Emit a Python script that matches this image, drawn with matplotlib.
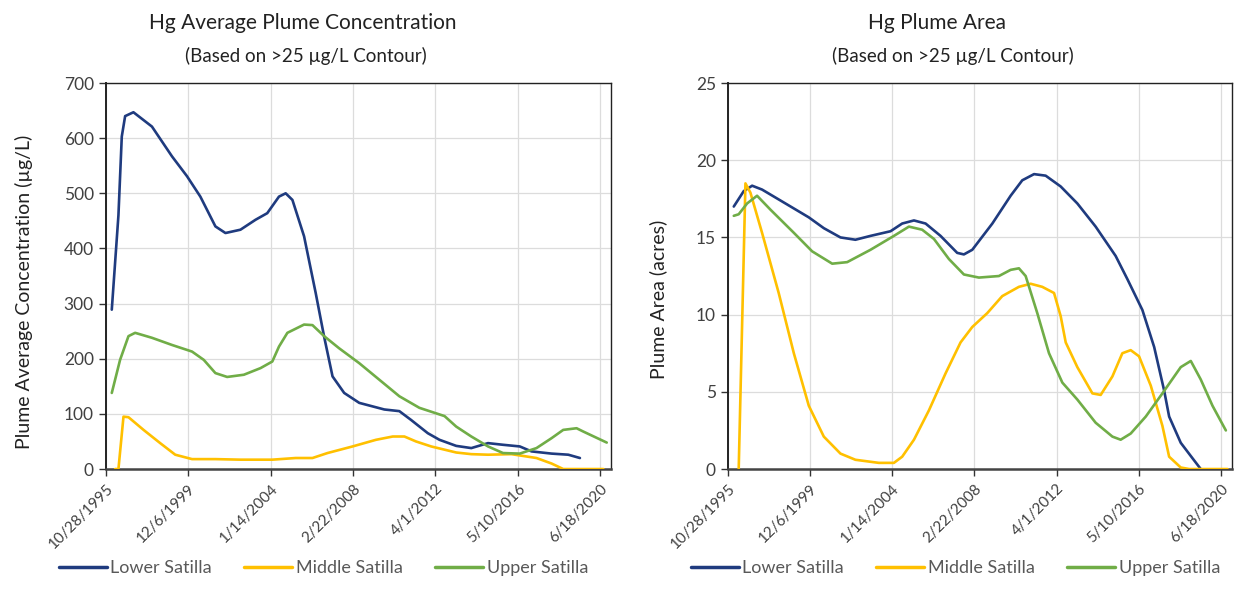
import matplotlib
matplotlib.use('Agg')
import matplotlib.pyplot as plt
import pandas as pd

plt.rcParams['font.family'] = ['Lato', 'DejaVu Sans']

# Hg average plume concentration (ug/L)
conc_lower_dates = ['1996-02-15', '1996-06-15', '1996-08-15', '1996-10-15', '1997-03-15',
                    '1998-02-15', '1999-02-15', '1999-11-15', '2000-07-15', '2001-04-15',
                    '2001-10-15', '2002-07-15', '2003-04-15', '2003-11-15', '2004-06-15',
                    '2004-10-15', '2005-02-15', '2005-09-15', '2006-04-15', '2006-09-15',
                    '2007-02-15', '2007-09-15', '2008-06-15', '2009-09-15', '2010-06-15',
                    '2011-01-15', '2011-11-15', '2012-06-15', '2013-04-15', '2014-01-15',
                    '2014-11-15', '2015-08-15', '2016-06-15', '2017-01-15', '2018-01-15',
                    '2018-11-15', '2019-06-15']
conc_lower = [289, 460, 603, 640, 647, 621, 567, 531, 494, 440, 428, 434, 452, 464, 494,
              500, 488, 422, 319, 240, 168, 138, 120, 108, 105, 89, 65, 53, 42, 38,
              47, 44, 41, 32, 28, 26, 20]

conc_middle_dates = ['1996-04-15', '1996-06-15', '1996-09-15', '1996-12-15', '1997-09-15',
                     '1998-07-15', '1999-04-15', '2000-02-15', '2001-04-15', '2002-07-15',
                     '2004-02-15', '2005-04-15', '2006-02-15', '2006-11-15', '2008-02-15',
                     '2009-04-15', '2010-02-15', '2010-09-15', '2011-04-15', '2012-01-15',
                     '2013-04-15', '2014-01-15', '2014-11-15', '2016-01-15', '2017-04-15',
                     '2018-01-15', '2018-08-15', '2020-08-15']
conc_middle = [0, 0, 95, 94, 71, 47, 26, 18, 18, 17, 17, 20, 20, 29, 41, 53, 59, 59, 50,
               41, 30, 27, 26, 27, 20, 10, 0, 0]

conc_upper_dates = ['1996-02-15', '1996-07-15', '1996-12-15', '1997-04-15', '1998-02-15',
                    '1999-02-15', '2000-02-15', '2000-09-15', '2001-04-15', '2001-11-15',
                    '2002-09-15', '2003-07-15', '2004-02-15', '2004-06-15', '2004-11-15',
                    '2005-09-15', '2006-02-15', '2006-09-15', '2007-06-15', '2008-06-15',
                    '2009-06-15', '2010-06-15', '2011-06-15', '2012-09-15', '2013-04-15',
                    '2014-01-15', '2014-11-15', '2015-08-15', '2016-06-15', '2017-04-15',
                    '2018-01-15', '2018-08-15', '2019-04-15', '2019-08-15', '2020-10-15']
conc_upper = [138, 198, 241, 247, 238, 225, 213, 198, 174, 167, 171, 183, 195, 222, 247,
              262, 261, 241, 219, 192, 162, 132, 111, 96, 77, 59, 41, 29, 28, 38,
              56, 71, 74, 68, 48]

# Hg plume area (acres)
area_lower_dates = ['1996-02-15', '1996-08-15', '1997-01-15', '1997-07-15', '1998-09-15',
                    '1999-11-15', '2000-08-15', '2001-06-15', '2002-03-15', '2002-12-15',
                    '2003-12-15', '2004-07-15', '2005-02-15', '2005-09-15', '2006-06-15',
                    '2007-04-15', '2007-08-15', '2008-01-15', '2009-01-15', '2009-12-15',
                    '2010-07-15', '2011-02-15', '2011-09-15', '2012-06-15', '2013-04-15',
                    '2014-03-15', '2015-03-15', '2015-10-15', '2016-07-15', '2017-02-15',
                    '2017-08-15', '2017-11-15', '2018-06-15', '2019-01-15', '2019-06-15']
area_lower = [17.0, 18.0, 18.35, 18.1, 17.2, 16.3, 15.6, 15.0, 14.85, 15.1, 15.4, 15.9,
              16.1, 15.9, 15.1, 14.0, 13.9, 14.2, 15.9, 17.7, 18.7, 19.1, 19.0, 18.3,
              17.2, 15.7, 13.8, 12.3, 10.3, 7.9, 5.1, 3.4, 1.7, 0.7, 0.0]

area_middle_dates = ['1996-05-15', '1996-09-15', '1996-12-15', '1997-07-15', '1998-05-15',
                     '1999-02-15', '1999-11-15', '2000-08-15', '2001-06-15', '2002-03-15',
                     '2003-05-15', '2004-02-15', '2004-07-15', '2005-02-15', '2005-11-15',
                     '2006-09-15', '2007-06-15', '2008-01-15', '2008-10-15', '2009-07-15',
                     '2010-05-15', '2010-12-15', '2011-07-15', '2012-02-15', '2012-06-15',
                     '2012-09-15', '2013-04-15', '2014-01-15', '2014-06-15', '2015-01-15',
                     '2015-07-15', '2015-12-15', '2016-05-15', '2016-12-15', '2017-07-15',
                     '2017-11-15', '2018-06-15', '2018-11-15', '2020-10-15']
area_middle = [0.0, 18.5, 17.9, 15.3, 11.4, 7.5, 4.1, 2.1, 1.0, 0.6, 0.4, 0.4, 0.8, 1.9,
               3.8, 6.2, 8.2, 9.2, 10.1, 11.2, 11.8, 12.0, 11.8, 11.4, 9.9, 8.2, 6.6,
               4.9, 4.8, 6.0, 7.5, 7.7, 7.3, 5.4, 2.8, 0.8, 0.1, 0.0, 0.0]

area_upper_dates = ['1996-02-15', '1996-05-15', '1996-10-15', '1997-04-15', '1997-12-15',
                    '1999-02-15', '2000-01-15', '2001-01-15', '2001-10-15', '2002-12-15',
                    '2004-02-15', '2004-11-15', '2005-07-15', '2006-02-15', '2006-11-15',
                    '2007-08-15', '2008-05-15', '2009-05-15', '2009-12-15', '2010-05-15',
                    '2010-09-15', '2011-04-15', '2011-11-15', '2012-07-15', '2013-04-15',
                    '2014-03-15', '2015-01-15', '2015-06-15', '2015-12-15', '2016-09-15',
                    '2017-07-15', '2018-06-15', '2018-12-15', '2019-06-15', '2020-01-15',
                    '2020-09-15']
area_upper = [16.4, 16.5, 17.2, 17.7, 16.8, 15.3, 14.1, 13.3, 13.4, 14.2, 15.1, 15.7,
              15.5, 14.9, 13.6, 12.6, 12.4, 12.5, 12.9, 13.0, 12.5, 10.1, 7.5, 5.6,
              4.5, 3.0, 2.1, 1.9, 2.3, 3.4, 4.9, 6.6, 7.0, 5.8, 4.1, 2.5]

tick_dates = ['1995-10-28', '1999-12-06', '2004-01-14', '2008-02-22',
              '2012-04-01', '2016-05-10', '2020-06-18']
tick_labels = ['10/28/1995', '12/6/1999', '1/14/2004', '2/22/2008',
               '4/1/2012', '5/10/2016', '6/18/2020']

series_names = ['Lower Satilla', 'Middle Satilla', 'Upper Satilla']
colors = ['#1f3b7f', '#ffc000', '#70ad47']

text_col = '#404040'


def draw_panel(ax, data, ymax, ystep, ylabel, label_xy):
    for (dates, vals), name, c in zip(data, series_names, colors):
        ax.plot(pd.to_datetime(dates), vals, color=c, lw=1.9, label=name,
                solid_joinstyle='round', solid_capstyle='round', zorder=3)
    ax.set_xlim(pd.Timestamp('1995-10-28'), pd.Timestamp('2020-12-28'))
    ax.set_ylim(0, ymax)
    ax.set_yticks(range(0, ymax + 1, ystep))
    ax.set_xticks(pd.to_datetime(tick_dates))
    ax.set_xticklabels(tick_labels, rotation=45, ha='right', rotation_mode='anchor')
    ax.grid(True, color='#dcdcdc', lw=0.9, zorder=0)
    ax.tick_params(axis='both', colors=text_col, direction='out', length=5, width=1)
    ax.tick_params(axis='y', labelsize=12.5)
    ax.tick_params(axis='x', labelsize=11, pad=4)
    ax.tick_params(axis='both', labelcolor=text_col, color='#333333')
    for s in ax.spines.values():
        s.set_color('#222222')
        s.set_linewidth(1.0)
    ax.spines['bottom'].set_linewidth(1.8)
    ax.spines['bottom'].set_color('#444444')
    ax.spines['left'].set_linewidth(1.4)
    ax.set_ylabel(ylabel, fontsize=14, color='#222222')
    ax.yaxis.set_label_coords(*label_xy)


fig = plt.figure(figsize=(12.44, 6.06), dpi=100)
ax1 = fig.add_axes([0.085, 0.226, 0.406, 0.637])
ax2 = fig.add_axes([0.585, 0.226, 0.405, 0.637])

draw_panel(ax1, [(conc_lower_dates, conc_lower), (conc_middle_dates, conc_middle),
                 (conc_upper_dates, conc_upper)],
           700, 100, 'Plume Average Concentration (\u00b5g/L)', (-0.145, 0.46))
draw_panel(ax2, [(area_lower_dates, area_lower), (area_middle_dates, area_middle),
                 (area_upper_dates, area_upper)],
           25, 5, 'Plume Area (acres)', (-0.12, 0.44))

fig.text(0.243, 0.962, 'Hg Average Plume Concentration', ha='center', va='center',
         fontsize=15, color='#222222')
fig.text(0.246, 0.908, '(Based on >25 \u00b5g/L Contour)', ha='center', va='center',
         fontsize=13.5, color='#222222')
fig.text(0.753, 0.962, 'Hg Plume Area', ha='center', va='center',
         fontsize=15, color='#222222')
fig.text(0.766, 0.908, '(Based on >25 \u00b5g/L Contour)', ha='center', va='center',
         fontsize=13.5, color='#222222')

for ax, cx in [(ax1, 0.26), (ax2, 0.768)]:
    h, l = ax.get_legend_handles_labels()
    leg = fig.legend(h, l, loc='center', bbox_to_anchor=(cx, 0.063), ncol=3,
                     frameon=False, fontsize=13, handlelength=2.65,
                     handletextpad=0.2, columnspacing=1.8)
    for t in leg.get_texts():
        t.set_color('#595959')
    for ln in leg.get_lines():
        ln.set_linewidth(2.5)

fig.savefig('out.png', dpi=100)
